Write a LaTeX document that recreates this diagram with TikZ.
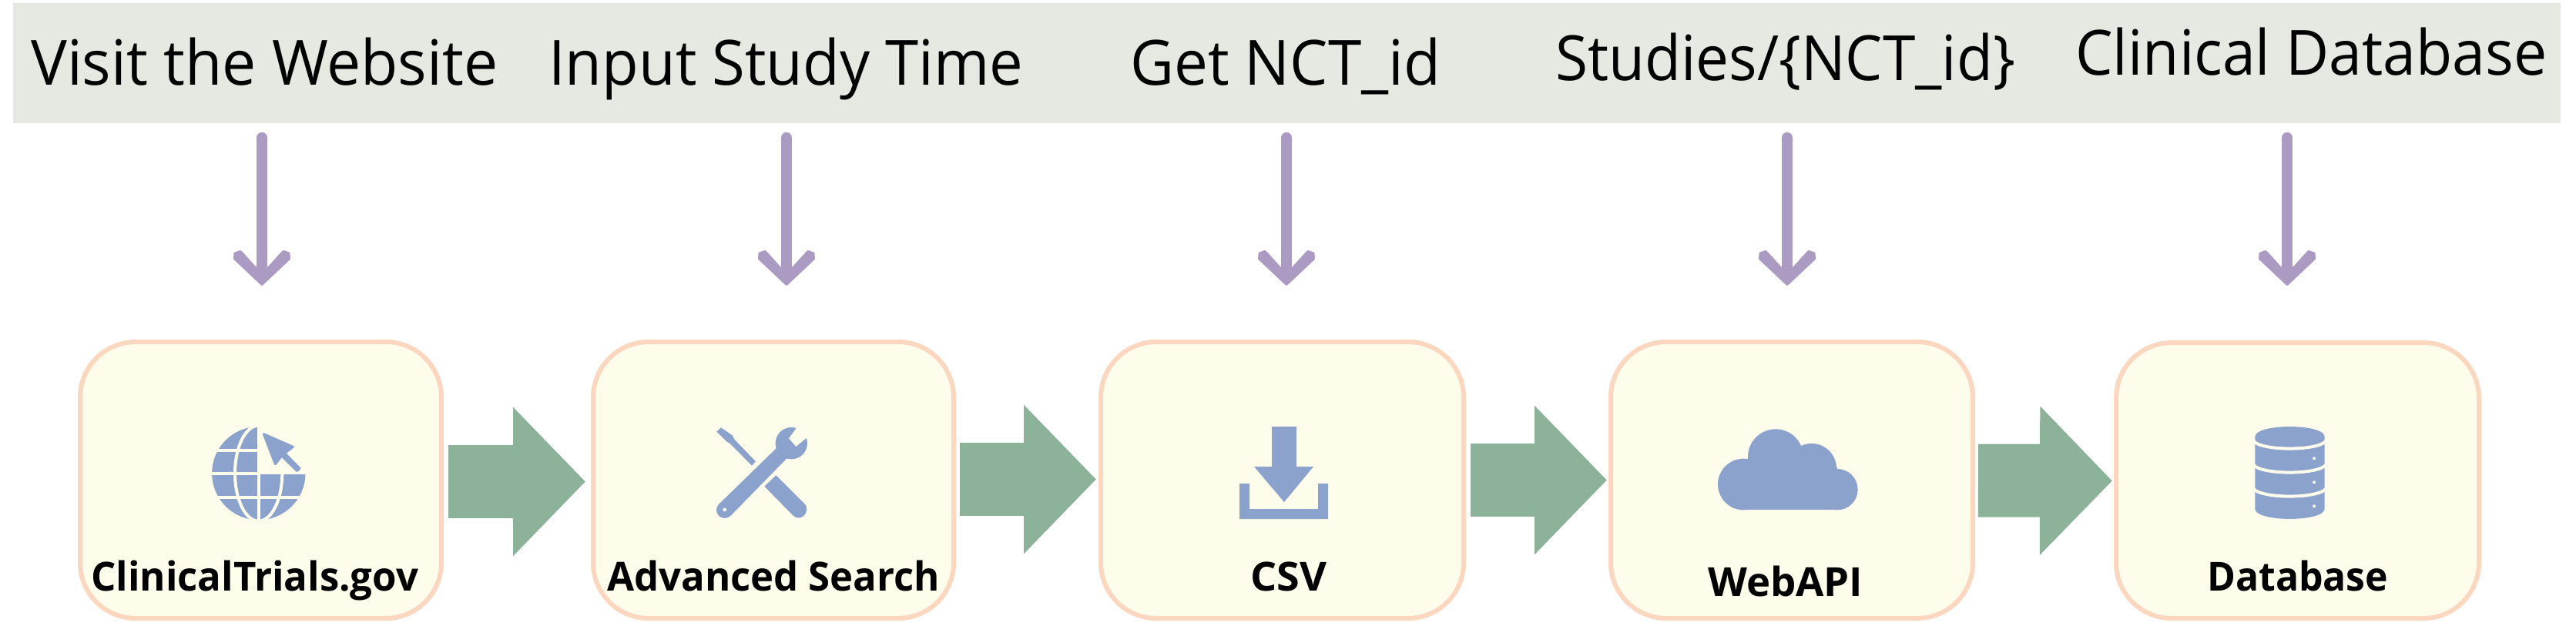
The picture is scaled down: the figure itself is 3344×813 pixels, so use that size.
\documentclass[tikz,border=0pt]{standalone}
\usepackage{fontspec}
\setmainfont{Open Sans}
\usetikzlibrary{arrows.meta}
\definecolor{bandc}{HTML}{E5E9E2}
\definecolor{boxfill}{HTML}{FEFCEB}
\definecolor{boxline}{HTML}{FAD7BE}
\definecolor{iconc}{HTML}{8BA3CC}
\definecolor{greenc}{HTML}{8CB29A}
\definecolor{purpc}{HTML}{AB9BC2}
\pgfdeclarearrow{
  name=WedgeBarb,
  setup code={
    \pgfarrowssettipend{0pt}
    \pgfarrowssetlineend{-20pt}
    \pgfarrowssetvisualbackend{-20pt}
    \pgfarrowssetbackend{-47pt}
    \pgfarrowshullpoint{0pt}{0pt}
    \pgfarrowshullpoint{-47pt}{38pt}
    \pgfarrowshullpoint{-47pt}{-38pt}
  },
  drawing code={
    \pgfsetdash{}{0pt}
    \pgfsetroundjoin
    \pgfsetlinewidth{3pt}
    \pgfsetfillcolor{purpc}
    \pgfsetstrokecolor{purpc}
    \pgfpathmoveto{\pgfqpoint{-2.5pt}{0pt}}
    \pgfpathlineto{\pgfqpoint{-36pt}{35.5pt}}
    \pgfpathlineto{\pgfqpoint{-43pt}{35pt}}
    \pgfpathlineto{\pgfqpoint{-45.5pt}{28pt}}
    \pgfpathlineto{\pgfqpoint{-43pt}{25.5pt}}
    \pgfpathlineto{\pgfqpoint{-17pt}{2pt}}
    \pgfpathlineto{\pgfqpoint{-17pt}{-2pt}}
    \pgfpathlineto{\pgfqpoint{-43pt}{-25.5pt}}
    \pgfpathlineto{\pgfqpoint{-45.5pt}{-28pt}}
    \pgfpathlineto{\pgfqpoint{-43pt}{-35pt}}
    \pgfpathlineto{\pgfqpoint{-36pt}{-35.5pt}}
    \pgfpathclose
    \pgfusepathqfillstroke
  }
}
\tikzset{
  stepbox/.style={draw=boxline,fill=boxfill,line width=6pt,rounded corners=72pt,inner sep=0pt},
  headtext/.style={anchor=base west,inner sep=0pt,font=\fontsize{81}{90}\selectfont},
  labeltext/.style={anchor=base west,inner sep=0pt,font=\fontsize{52}{60}\selectfont\bfseries},
  flow/.style={draw=greenc,fill=greenc,line width=95pt,-{Triangle[length=94pt,width=188pt,fill=greenc]}},
  down/.style={draw=purpc,line width=14.5pt,line cap=round,-{WedgeBarb}},
  icon/.style={fill=iconc},
  gap/.style={draw=boxfill,line width=4pt}
}
\begin{document}
\begin{tikzpicture}[x=1pt,y=-1pt]
\useasboundingbox (0,0) rectangle (3344,813);
% band
\node[fill=bandc,inner sep=0pt,minimum width=3307pt,minimum height=156pt] (band) at (1670.5,82) {};
\node[headtext] (h1) at (40,111) {\resizebox{606pt}{\height}{Visit the Website}};
\node[headtext] (h2) at (712,111) {\resizebox{616pt}{\height}{Input Study Time}};
\node[headtext] (h3) at (1467,111) {\resizebox{403pt}{\height}{Get NCT\_id}};
\node[headtext] (h4) at (2019,105) {\resizebox{597pt}{\height}{Studies/\{NCT\_id\}}};
\node[headtext] (h5) at (2694,98) {\resizebox{612pt}{\height}{Clinical Database}};
% boxes
\node[stepbox,minimum width=469pt,minimum height=359pt] (b1) at (338.5,623.5) {};
\node[stepbox,minimum width=468pt,minimum height=359pt] (b2) at (1004,623.5) {};
\node[stepbox,minimum width=471pt,minimum height=359pt] (b3) at (1664.5,623.5) {};
\node[stepbox,minimum width=470pt,minimum height=359pt] (b4) at (2326,623.5) {};
\node[stepbox,minimum width=471pt,minimum height=358pt] (b5) at (2982.5,624) {};
% labels
\node[labeltext] (l1) at (118,767) {\resizebox{425pt}{\height}{ClinicalTrials.gov}};
\node[labeltext] (l2) at (788,767) {\resizebox{432pt}{\height}{Advanced Search}};
\node[labeltext] (l3) at (1623,767) {\resizebox{99pt}{\height}{CSV}};
\node[labeltext] (l4) at (2217,774) {\resizebox{201pt}{\height}{WebAPI}};
\node[labeltext] (l5) at (2865,767) {\resizebox{235pt}{\height}{Database}};
% block connectors
\draw[flow,shorten <=6pt,shorten >=7pt] ([yshift=-2pt]b1.east) -- ([yshift=-2pt]b2.west);
\draw[flow,shorten <=5pt,shorten >=3pt] ([yshift=1pt]b2.east) -- ([yshift=1pt]b3.west);
\draw[flow,shorten <=6pt,shorten >=2pt] (b3.east) -- (b4.west);
\draw[flow,shorten <=4pt,shorten >=2pt] ([yshift=-.5pt]b4.east) -- ([yshift=-.5pt]b5.west);
% purple arrows
\foreach \i/\x in {1/340,2/1021,3/1670,4/2320,5/2969}{
  \coordinate (s\i) at (\x,179);
  \coordinate (e\i) at (\x,372);
  \draw[down] (s\i) -- (e\i);
}
% globe
\begin{scope}[shift={(220,520)},x=.33333pt,y=-.33333pt]
  \fill[icon] (347.5,284) circle[radius=182];
  \fill[boxfill] (341,90) rectangle (540,288);
  \draw[gap] (347,95) -- (347,475);
  \draw[gap] (160,195) -- (341,195) (160,283.5) -- (341,283.5) (160,378) -- (535,378);
  \draw[gap] (347,284) ellipse[x radius=92,y radius=186];
  \filldraw[icon,draw=iconc,line width=3pt,line join=round]
    (367,131) -- (481,181) -- (449,206) -- (507,265) -- (497,275) -- (437,216) -- (412,248) -- cycle;
\end{scope}
% tools
\begin{scope}[shift={(900,530)},x=.33333pt,y=-.33333pt]
  \fill[icon] (91,92) -- (108,76) -- (152,106) -- (160,122) -- (243,208) -- (228,224) -- (145,140) -- (130,130) -- cycle;
  \fill[icon] (322,262) -- (436,376) .. controls (450,395) and (435,428) .. (410,428)
     .. controls (400,428) and (392,423) .. (385,415) -- (277,305) -- cycle;
  \fill[icon] (100,374) -- (328,152) -- (368,192) -- (145,420) -- cycle;
  \fill[icon] (122,397) circle[radius=32];
  \fill[icon] (382,137) circle[radius=62];
  \fill[boxfill] (407,70) -- (372,118) -- (400,150) -- (445,113) -- (470,60) -- cycle;
  \fill[boxfill] (122,396) circle[radius=7];
\end{scope}
% download
\fill[icon] (1651,554) rectangle (1683,606);
\fill[icon] (1628,606) -- (1705,606) -- (1667,652) -- cycle;
\fill[icon] (1609,628) -- (1622,628) -- (1622,661) -- (1711,661) -- (1711,628) -- (1724,628) -- (1724,674) -- (1609,674) -- cycle;
% cloud
\begin{scope}[shift={(2210,540)},x=.33333pt,y=-.33333pt]
  \fill[icon] (160,267) circle[radius=100];
  \fill[icon] (285,160) circle[radius=108];
  \fill[icon] (425,205) circle[radius=97];
  \fill[icon] (525,287) circle[radius=80];
  \fill[icon] (160,200) rectangle (525,367);
\end{scope}
% database
\begin{scope}[shift={(2880,540)},x=.33333pt,y=-.33333pt]
  \fill[icon] (142,82) .. controls (142,29) and (413,29) .. (413,82)
     -- (413,362) .. controls (413,415) and (142,415) .. (142,362) -- cycle;
  \draw[gap] (132,88) .. controls (132,141) and (422,141) .. (422,88);
  \draw[gap] (132,181) .. controls (132,234) and (422,234) .. (422,181);
  \draw[gap] (132,274) .. controls (132,327) and (422,327) .. (422,274);
  \fill[boxfill] (372,166) circle[radius=6] (372,259) circle[radius=6] (372,352) circle[radius=6];
\end{scope}
\end{tikzpicture}
\end{document}
